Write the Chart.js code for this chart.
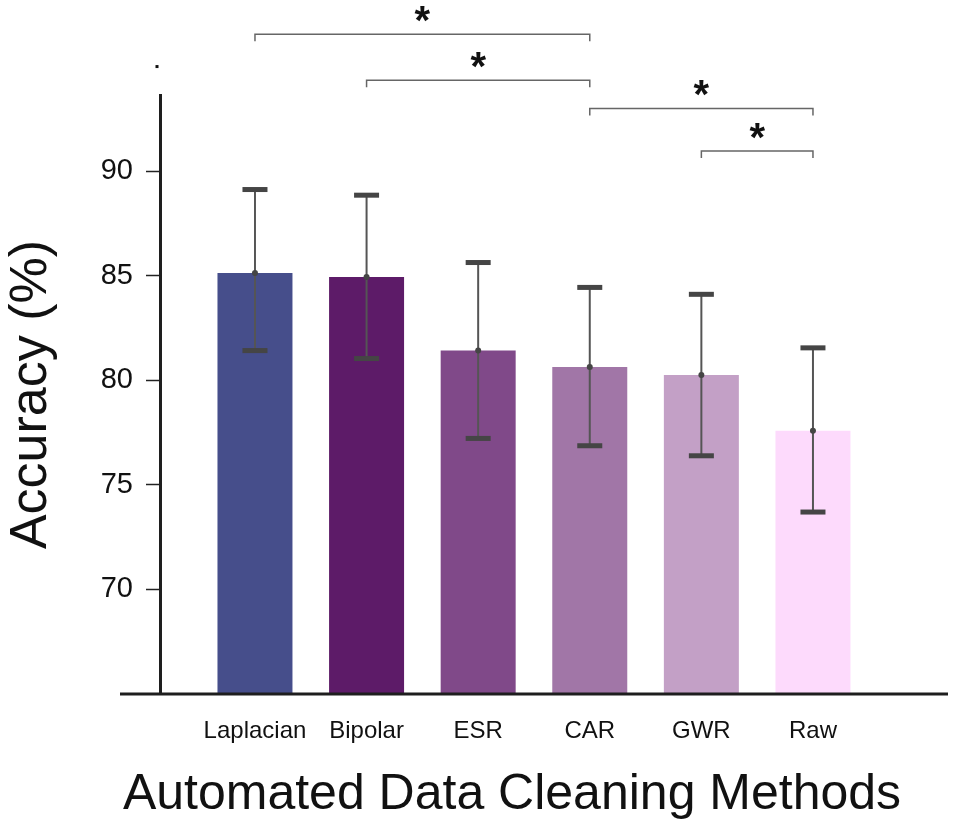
<!DOCTYPE html>
<html>
<head>
<meta charset="utf-8">
<script src="https://cdn.jsdelivr.net/npm/chart.js@4.4.1/dist/chart.umd.min.js"></script>
<style>
    body { margin: 0; background: #fff; }
    #wrap { width: 954px; height: 823px; }
</style>
</head>
<body>
<div id="wrap"><canvas id="accChart"></canvas></div>
<script>
// method names and mean accuracy (%)
const methods = ["Laplacian", "Bipolar", "ESR", "CAR", "GWR", "Raw"];
const accuracy = [85.13, 84.94, 81.42, 80.64, 80.25, 77.59];

// error bar ends (%)
const errHigh = [89.12, 88.85, 85.63, 84.44, 84.11, 81.55];
const errLow = [81.42, 81.04, 77.22, 76.87, 76.39, 73.70];

const barColors = ["#464e8b", "#5d1b68", "#804989", "#a176a7", "#c3a0c6", "#fddafc"];

const yTicks = [70, 75, 80, 85, 90];

// significance brackets: pair of method indexes + level on the accuracy axis
const sigPairs = [[0, 3], [1, 3], [3, 5], [4, 5]];
const sigLevels = [96.54, 94.35, 93.0, 90.96];
const sigMarks = ["*", "*", "*", "*"];

const xTitle = "Automated Data Cleaning Methods";

const FONT = "'Liberation Sans', Arial, Helvetica, sans-serif";

const overlay = {
    id: "overlay",

    afterDatasetsDraw(chart) {
        const { ctx } = chart;
        const x = chart.scales.x;
        const y = chart.scales.y;

        ctx.save();
        methods.forEach((m, i) => {
            const px = x.getPixelForValue(i);
            const top = y.getPixelForValue(errHigh[i]);
            const bot = y.getPixelForValue(errLow[i]);

            ctx.strokeStyle = "#555";
            ctx.lineWidth = 2;
            ctx.beginPath();
            ctx.moveTo(px, top);
            ctx.lineTo(px, bot);
            ctx.stroke();

            ctx.fillStyle = "#454545";
            ctx.fillRect(px - 12.5, top - 2.5, 25, 5);
            ctx.fillRect(px - 12.5, bot - 2.5, 25, 5);

            ctx.beginPath();
            ctx.arc(px, y.getPixelForValue(accuracy[i]), 3, 0, Math.PI * 2);
            ctx.fill();
        });
        ctx.restore();
    },

    afterDraw(chart) {
        const { ctx, chartArea } = chart;
        const x = chart.scales.x;
        const y = chart.scales.y;

        ctx.save();

        // x axis line runs past the y axis on the left
        ctx.strokeStyle = "#1e1e1e";
        ctx.lineWidth = 3;
        ctx.beginPath();
        ctx.moveTo(120, chartArea.bottom);
        ctx.lineTo(chartArea.right, chartArea.bottom);
        ctx.stroke();

        // stray mark above the axis
        ctx.fillStyle = "#111";
        ctx.fillRect(chartArea.left - 4.5, y.getPixelForValue(95) - 1.5, 3, 3);

        // x title, not centred on the plot in the original
        ctx.font = "50px " + FONT;
        ctx.textAlign = "center";
        ctx.textBaseline = "middle";
        ctx.fillText(xTitle, 512, 795);

        // significance brackets
        sigPairs.forEach((pair, k) => {
            const x1 = x.getPixelForValue(pair[0]);
            const x2 = x.getPixelForValue(pair[1]);
            const py = y.getPixelForValue(sigLevels[k]);

            ctx.strokeStyle = "#666";
            ctx.lineWidth = 1.5;
            ctx.beginPath();
            ctx.moveTo(x1, py + 7);
            ctx.lineTo(x1, py);
            ctx.lineTo(x2, py);
            ctx.lineTo(x2, py + 7);
            ctx.stroke();

            ctx.fillStyle = "#111";
            ctx.font = "bold 40px " + FONT;
            ctx.textAlign = "center";
            ctx.textBaseline = "alphabetic";
            ctx.fillText(sigMarks[k], (x1 + x2) / 2, py);
        });

        ctx.restore();
    }
};

const ctx = document.getElementById("accChart");

new Chart(ctx, {
    type: "bar",

    data: {
        datasets: [{
            data: accuracy.map((v, i) => ({ x: i, y: v })),
            backgroundColor: barColors,
            borderWidth: 0,
            barPercentage: 0.672,
            categoryPercentage: 1
        }]
    },

    options: {
        responsive: true,
        maintainAspectRatio: false,
        animation: false,

        layout: {
            padding: { top: 95, right: 6, bottom: 0, left: 0 }
        },

        plugins: {
            legend: { display: false },
            tooltip: { enabled: false }
        },

        scales: {
            x: {
                type: "linear",
                offset: false,
                min: -0.851,
                max: 6.21,
                afterBuildTicks: scale => {
                    scale.ticks = methods.map((m, i) => ({ value: i }));
                },
                afterFit: scale => {
                    scale.height = 129;
                },
                grid: { display: false, drawTicks: false },
                border: { display: false },
                ticks: {
                    autoSkip: false,
                    maxRotation: 0,
                    padding: 23,
                    color: "#111",
                    font: { family: FONT, size: 24 },
                    callback: v => methods[v]
                }
            },

            y: {
                min: 65,
                max: 93.64,
                afterBuildTicks: scale => {
                    scale.ticks = yTicks.map(v => ({ value: v }));
                },
                afterFit: scale => {
                    scale.width = 160;
                },
                grid: {
                    drawOnChartArea: false,
                    drawTicks: true,
                    tickLength: 14,
                    tickColor: "#222",
                    tickWidth: 1.5
                },
                border: { display: true, color: "#1e1e1e", width: 3 },
                ticks: {
                    padding: 13,
                    color: "#111",
                    font: { family: FONT, size: 29 }
                },
                title: {
                    display: true,
                    text: "Accuracy (%)",
                    color: "#111",
                    font: { family: FONT, size: 52, lineHeight: 1.2 },
                    padding: { top: 0, bottom: 0 }
                }
            }
        }
    },

    plugins: [overlay]
});
</script>
</body>
</html>
